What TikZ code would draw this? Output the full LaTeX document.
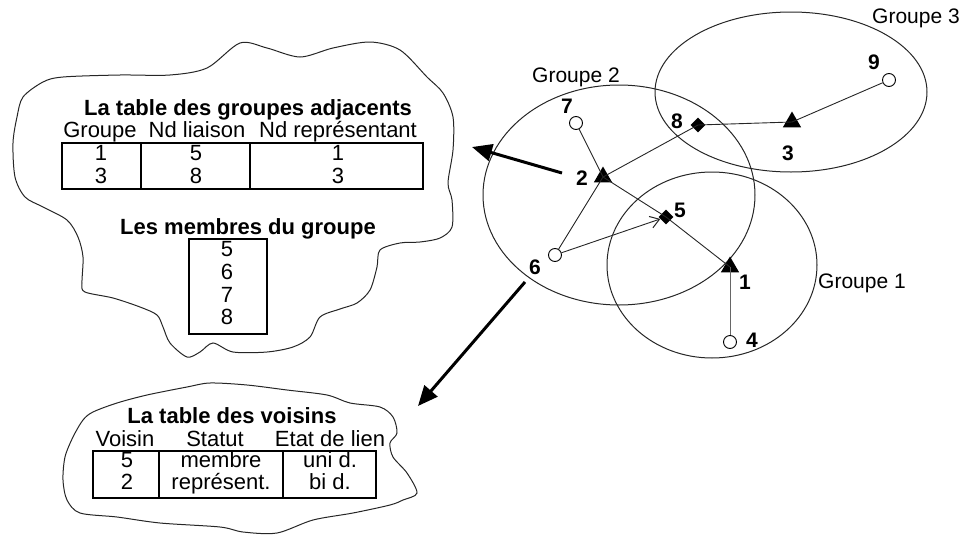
\documentclass[tikz,border=0pt]{standalone}
\usepackage{fontspec}
\setmainfont{Liberation Sans}
\usetikzlibrary{arrows.meta,shapes.geometric}
\begin{document}
\begin{tikzpicture}[x=1pt,y=-1pt,
  txt/.style={font=\fontsize{22}{24}\selectfont, inner sep=0pt, text height=15pt, text depth=4pt, anchor=center},
  ttl/.style={font=\fontsize{22}{24}\selectfont\bfseries, inner sep=0pt, text height=15pt, text depth=4pt, anchor=center},
  lbl/.style={font=\fontsize{21}{23}\selectfont\bfseries, inner sep=0pt, anchor=center},
  grp/.style={font=\fontsize{21}{23}\selectfont, inner sep=0pt, text height=15pt, text depth=4pt, anchor=center},
  wnode/.style={circle, draw, fill=white, minimum size=13pt, inner sep=0pt, line width=0.9pt},
  tnode/.style={regular polygon, regular polygon sides=3, fill=black, minimum size=21pt, inner sep=0pt},
  dnode/.style={diamond, fill=black, minimum size=15pt, inner sep=0pt},
  link/.style={line width=0.9pt, draw=black!85},
  bigarrow/.style={line width=3pt, -{Triangle[length=20pt,width=17pt]}},
  outline/.style={line width=1pt, draw=black!85},
  tbl/.style={line width=1.1pt}
]
\useasboundingbox (0,0) rectangle (962,541);

% ellipses
\draw[outline] (791,92) ellipse [x radius=136, y radius=80];
\draw[outline] (619,195) ellipse [x radius=136, y radius=110];
\draw[outline] (712,265) ellipse [x radius=105, y radius=93];

\node[grp] (g3) at (916,18) {Groupe 3};
\node[grp] (g2) at (576,77) {Groupe 2};
\node[grp] (g1) at (862,283) {Groupe 1};

% network nodes
\node[wnode] (n9) at (889,80) {};
\node[tnode] (n3) at (792,122) {};
\node[dnode] (n8) at (698,125) {};
\node[wnode] (n7) at (576,123) {};
\node[tnode] (n2) at (603,177) {};
\node[dnode] (n5) at (666,217) {};
\node[wnode] (n6) at (555,255) {};
\node[tnode] (n1) at (730,267) {};
\node[wnode] (n4) at (730,342) {};

\node[lbl] (l9) at (874,62) {9};
\node[lbl] (l3) at (788,153) {3};
\node[lbl] (l8) at (677,121) {8};
\node[lbl] (l7) at (567,106) {7};
\node[lbl] (l2) at (582,178) {2};
\node[lbl] (l5) at (680,210) {5};
\node[lbl] (l6) at (535,267) {6};
\node[lbl] (l1) at (745,282) {1};
\node[lbl] (l4) at (752,340) {4};

% links
\draw[link] (n9) -- (n3.center);
\draw[link] (n8.center) -- (n3.center);
\draw[link] (n2.center) -- (n8.center);
\draw[link] (n7) -- (n2.center);
\draw[link] (n2.center) -- (n5.center);
\draw[link] (n5.center) -- (n1.center);
\draw[link] (n6) -- (n2.center);
\draw[link, draw=black!60] (n4) -- (n1.center);
\draw[link, -{Straight Barb[length=9pt,width=12pt,line width=1pt]}, shorten >=6pt] (n6) -- (n5.center);

% thick arrows
\coordinate (a1s) at (562,173);
\coordinate (a1e) at (472,147);
\draw[bigarrow] (a1s) -- (a1e);
\coordinate (a2s) at (525,282);
\coordinate (a2e) at (418,406);
\draw[bigarrow] (a2s) -- (a2e);

% cloud 1
\draw[outline] plot[smooth cycle, tension=0.5] coordinates {
(43,82) (63,77) (120,75) (170,75) (207,68) (240,43) (267,48) (300,57) (333,48) (370,42) (400,50) (427,77) (443,93) (453,117) (453,150) (448,183) (452,200) (452,227) (440,238) (420,242) (400,243) (380,250) (377,267) (370,290) (357,303) (340,309) (320,317) (310,337) (293,347) (267,352) (233,352) (213,343) (200,352) (187,357) (170,343) (163,327) (157,315) (140,307) (113,298) (85,292) (82,283) (83,257) (78,237) (67,220) (43,207) (25,197) (15,177) (13,143) (17,117) (23,97)};

% cloud 2
\draw[outline] plot[smooth cycle, tension=0.5] coordinates {
(83,420) (93,412) (117,403) (147,395) (187,387) (210,383) (247,385) (287,390) (327,395) (350,403) (380,407) (393,417) (397,433) (390,443) (393,457) (407,473) (417,493) (403,500) (390,505) (353,513) (313,520) (277,533) (243,532) (220,527) (160,523) (117,517) (80,513) (67,500) (63,480) (65,457) (73,437)};

% table des groupes adjacents
\node[ttl] (t1) at (248,110) {La table des groupes adjacents};
\node[txt] (h11) at (100,132) {Groupe};
\node[txt] (h12) at (197,132) {Nd liaison};
\node[txt] (h13) at (338,132) {Nd représentant};
\draw[tbl] (62,143) rectangle (423,189);
\draw[tbl] (141,143) -- (141,189);
\draw[tbl] (250,143) -- (250,189);
\node[txt] (c111) at (101,155) {1};
\node[txt] (c112) at (196,155) {5};
\node[txt] (c113) at (338,155) {1};
\node[txt] (c121) at (101,178) {3};
\node[txt] (c122) at (196,178) {8};
\node[txt] (c123) at (338,178) {3};

% membres du groupe
\node[ttl] (t2) at (248,229) {Les membres du groupe};
\draw[tbl] (189,239) rectangle (267,334);
\node[txt] (m5) at (227,251) {5};
\node[txt] (m6) at (227,274) {6};
\node[txt] (m7) at (227,297) {7};
\node[txt] (m8) at (227,319) {8};

% table des voisins
\node[ttl] (t3) at (232,418) {La table des voisins};
\node[txt] (h31) at (125,441) {Voisin};
\node[txt] (h32) at (215,441) {Statut};
\node[txt] (h33) at (330,441) {Etat de lien};
\draw[tbl] (93,451) rectangle (376,498);
\draw[tbl] (159,451) -- (159,498);
\draw[tbl] (283,451) -- (283,498);
\node[txt] (v11) at (127,462) {5};
\node[txt] (v12) at (221,462) {membre};
\node[txt] (v13) at (330,462) {uni d.};
\node[txt] (v21) at (127,484) {2};
\node[txt] (v22) at (221,484) {représent.};
\node[txt] (v23) at (330,484) {bi d.};
\end{tikzpicture}
\end{document}
